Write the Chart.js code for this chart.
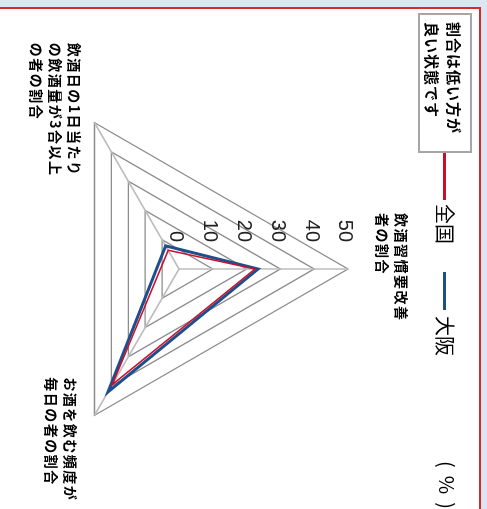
<!DOCTYPE html>
<html lang="ja">
<head>
<meta charset="utf-8">
<script src="https://cdn.jsdelivr.net/npm/chart.js@4.4.1/dist/chart.umd.min.js"></script>
<style>
  html, body { margin: 0; padding: 0; }
  body { width: 487px; height: 509px; overflow: hidden; background: #dce6f2; position: relative; }
  #waku {
    position: absolute; left: -4px; top: 7px; width: 485px; height: 600px;
    box-sizing: border-box; background: #fff;
    border-top: 2px solid #d42a2a; border-right: 2px solid #d42a2a;
  }
  /* グラフ全体を時計回りに90度回転 */
  #kaiten {
    position: absolute; left: 0; top: 0; width: 509px; height: 487px;
    transform-origin: 0 0; transform: translate(487px, 0) rotate(90deg);
    font-family: "Noto Sans CJK JP", sans-serif; color: #000;
  }
  #kaiten canvas { position: absolute; left: 0; top: 0; }
  .nota {
    position: absolute; left: 13px; top: 15px; width: 140px; height: 54px;
    box-sizing: border-box; border: 2px solid #a6a6a6; background: #fff;
    font-size: 15px; font-weight: bold; line-height: 22px; letter-spacing: 1px;
    padding: 5px 0 0 7px; white-space: nowrap;
  }
  .linha { position: absolute; height: 3px; }
  .rotulo { position: absolute; font-size: 20px; line-height: 24px; white-space: nowrap; }
</style>
</head>
<body>
<div id="waku"></div>
<div id="kaiten">
  <canvas id="radar" width="509" height="487"></canvas>
  <div class="nota">割合は低い方が<br>良い状態です</div>
  <div class="linha" style="left:153px; top:41px; width:47px; background:#c8102e;"></div>
  <div class="rotulo" style="left:204px; top:30px;">全国</div>
  <div class="linha" style="left:272px; top:41px; width:38px; background:#1f4e8c;"></div>
  <div class="rotulo" style="left:316px; top:30px;">大阪</div>
  <div class="rotulo" style="left:461px; top:28px; letter-spacing:8px;">(%)</div>
</div>
<script>
// 項目（時計回り、上から）
const koumoku = [
  ["飲酒習慣要改善", "者の割合"],
  ["お酒を飲む頻度が", "毎日の者の割合"],
  ["飲酒日の1日当たり", "の飲酒量が3合以上", "の者の割合"]
];
const zenkoku = [22.5, 39.5, 6.4];  // 全国
const osaka = [23.4, 42.0, 7.9];    // 大阪
const meimoku = ["0", "10", "20", "30", "40", "50"];

// ラベルの位置（頂点からのずれ）
const zure = [
  { dx: -56, dy: -53 },
  { dx: -38, dy: 24 },
  { dx: -80, dy: 20 }
];

const rabelPlugin = {
  id: 'rabel',
  afterDraw(chart) {
    const r = chart.scales.r;
    const ctx = chart.ctx;
    ctx.save();
    // 目盛り（軸の左側、右寄せ）
    ctx.font = '20px "Liberation Sans", Arial, sans-serif';
    ctx.fillStyle = '#222';
    ctx.textAlign = 'right';
    ctx.textBaseline = 'middle';
    r.ticks.forEach(function (t, i) {
      const y = r.yCenter - r.getDistanceFromCenterForValue(t.value);
      ctx.fillText(meimoku[i], r.xCenter - 27, y + 3);
    });
    // 項目名
    ctx.font = 'bold 14px "Noto Sans CJK JP", sans-serif';
    ctx.letterSpacing = '1.5px';
    ctx.fillStyle = '#000';
    ctx.textAlign = 'left';
    koumoku.forEach(function (gyou, i) {
      const p = r.getPointPosition(i, r.drawingArea);
      gyou.forEach(function (s, j) {
        ctx.fillText(s, p.x + zure[i].dx, p.y + zure[i].dy + j * 19);
      });
    });
    ctx.restore();
  }
};

const ctx = document.getElementById('radar').getContext('2d');
const grafico = new Chart(ctx, {
  type: 'radar',
  data: {
    labels: koumoku,
    datasets: [
      { label: '全国', data: zenkoku, borderColor: '#c8102e', borderWidth: 1.5, fill: false, pointRadius: 0 },
      { label: '大阪', data: osaka, borderColor: '#1f4e8c', borderWidth: 3, fill: false, pointRadius: 0 }
    ]
  },
  options: {
    responsive: false,
    animation: false,
    devicePixelRatio: 1,
    layout: { padding: { left: 100, top: 139, right: 71, bottom: 10 } },
    plugins: { legend: { display: false }, tooltip: { enabled: false } },
    scales: {
      r: {
        min: 0,
        max: 50,
        ticks: { stepSize: 10, display: false },
        pointLabels: { display: false },
        grid: { color: '#8c8c8c', lineWidth: 1.3 },
        angleLines: { color: '#bdbdbd', lineWidth: 1.5 }
      }
    }
  },
  plugins: [rabelPlugin]
});
</script>
</body>
</html>
